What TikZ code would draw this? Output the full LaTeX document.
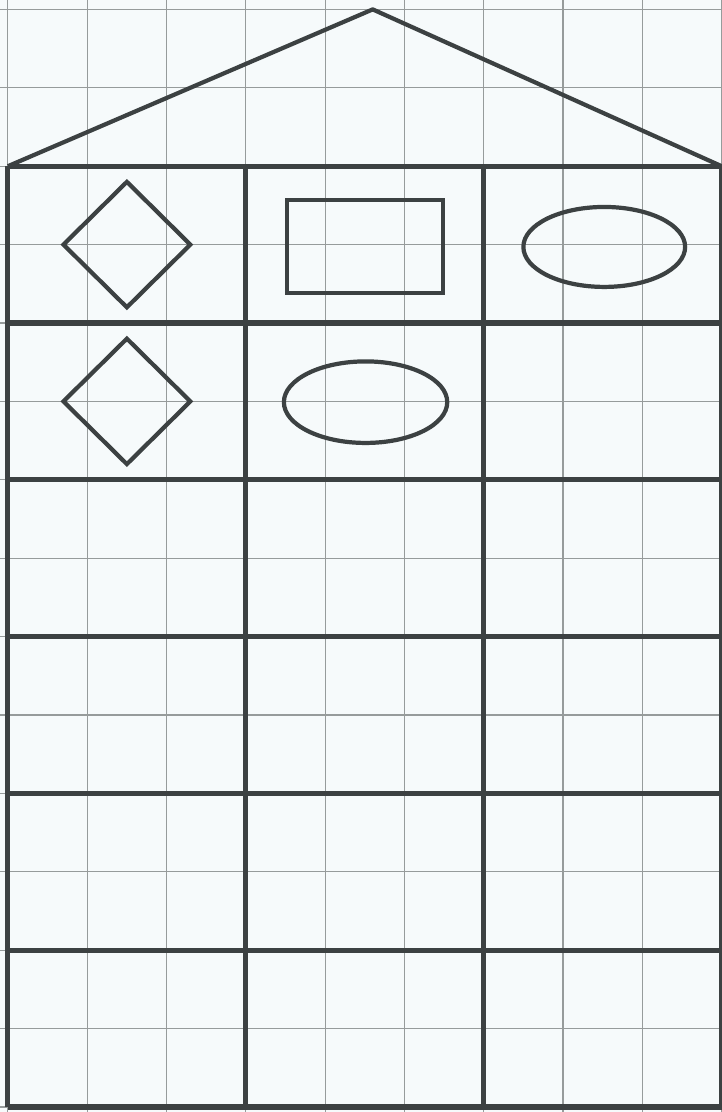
\documentclass[tikz,border=0pt]{standalone}
\usepackage{tikz}
\definecolor{paper}{RGB}{246,250,251}
\definecolor{ink}{RGB}{60,65,66}
\definecolor{rule}{RGB}{150,155,155}

\begin{document}
\begin{tikzpicture}[x=1.9825cm,y=1.96cm,
  gridline/.style={rule,line width=0.8pt},
  frame/.style={ink,line width=3.6pt},
  figure/.style={ink,line width=3pt,line join=miter}]
  % paper and grid
  \fill[paper] (-0.1,-0.064) rectangle (9.0,14.12);
  \useasboundingbox (-0.1,-0.064) rectangle (9.0,14.12);
  \draw[gridline,step={(1,1)}] (-0.1,-0.064) grid (9.0,14.12);
  % roof
  \draw[figure,line join=round] (0,12)--(4.6,14)--(9,12);
  % house: rows and columns
  \foreach \y in {0,2,...,12}
    \draw[frame] (0,\y)--(9,\y);
  \foreach \x in {0,3,6,9}
    \draw[frame] (\x,0)--(\x,12);
  % figures in the first two rows
  \draw[figure] (1.5,11.8)--(2.3,11)--(1.5,10.2)--(0.7,11)--cycle;
  \draw[figure] (3.52,10.38) rectangle (5.49,11.57);
  \draw[figure] (7.52,10.97) ellipse (1.02 and 0.51);
  \draw[figure] (1.5,9.8)--(2.3,9)--(1.5,8.2)--(0.7,9)--cycle;
  \draw[figure] (4.51,8.99) ellipse (1.03 and 0.52);
\end{tikzpicture}
\end{document}
